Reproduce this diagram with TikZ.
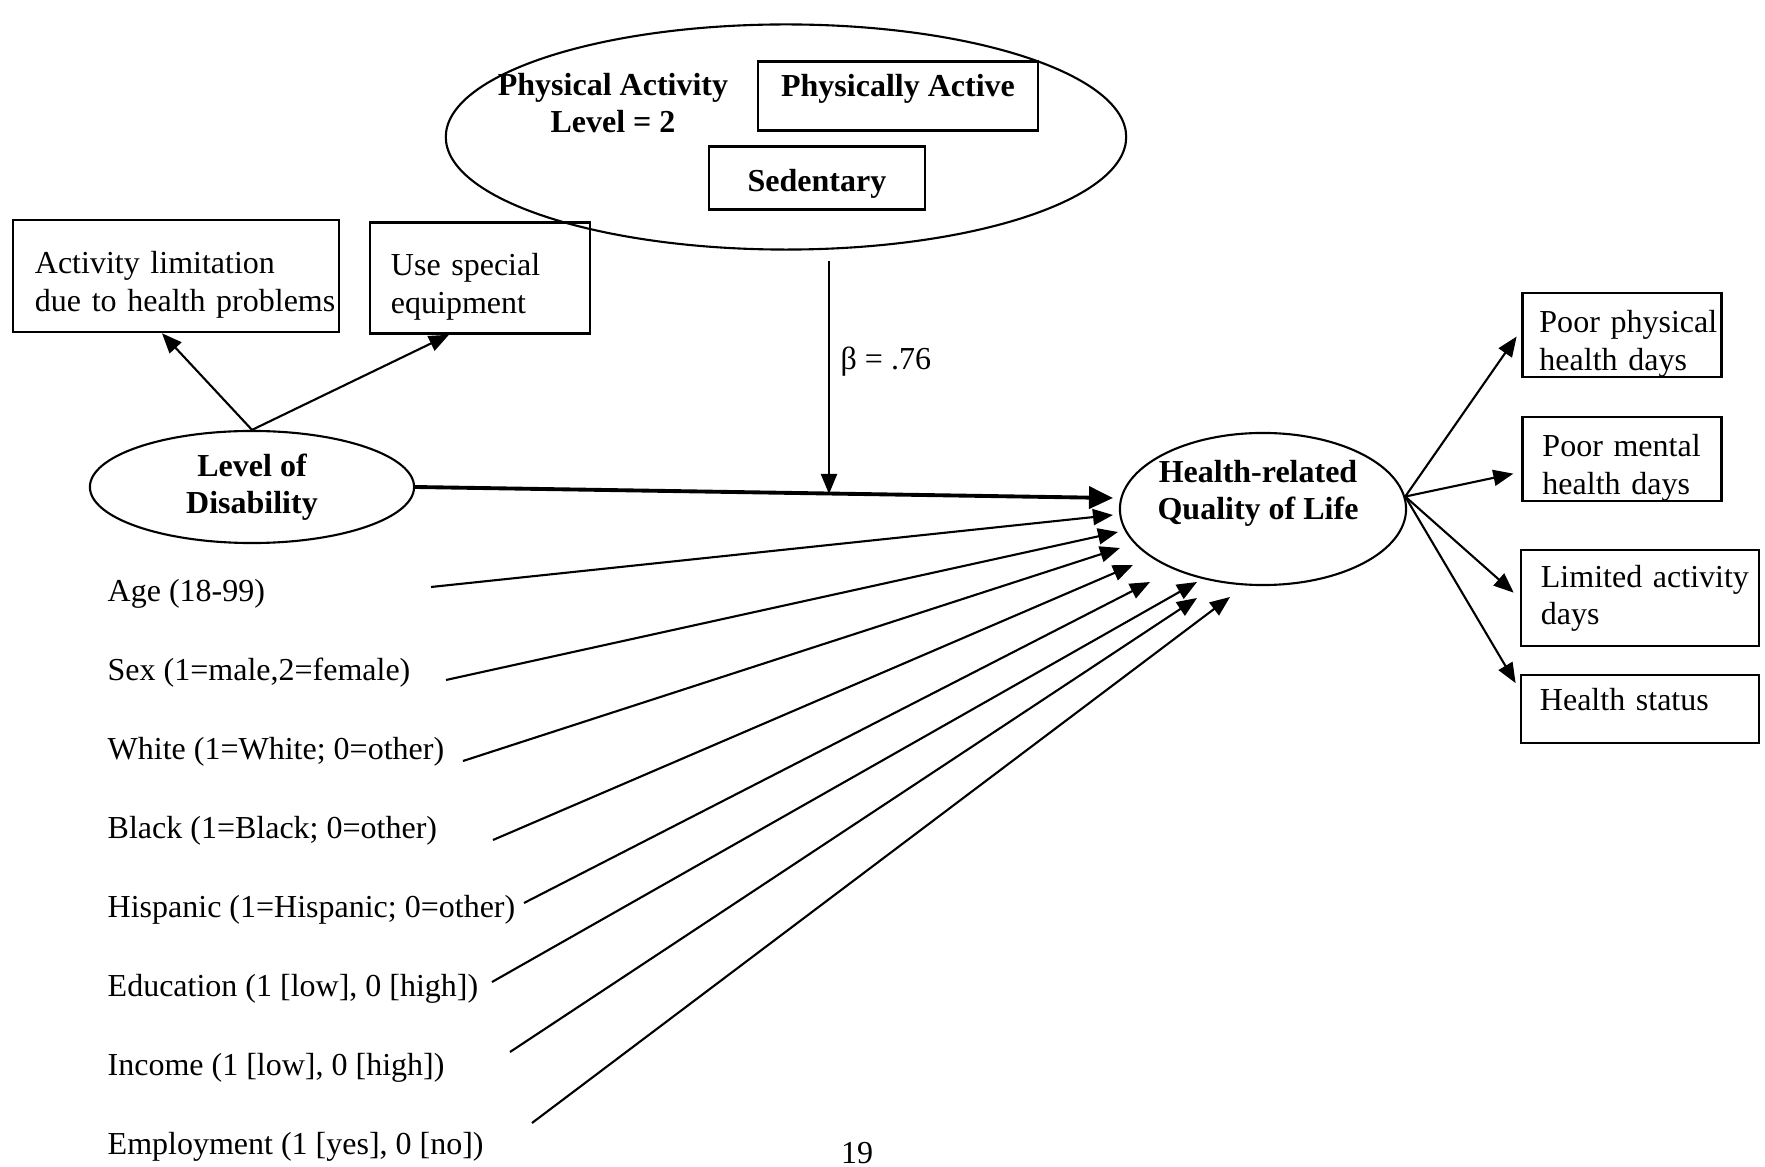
\documentclass[tikz,border=0pt]{standalone}
\usepackage{fontspec}
\setmainfont{Liberation Serif}
\usepackage{tikz}
\usetikzlibrary{arrows.meta,shapes.geometric,calc}
\newcommand{\diagfont}{\fontsize{9.1pt}{10.6pt}\selectfont}
\newcommand{\topgap}{\rule{0pt}{0.40cm}}

\begin{document}
\begin{tikzpicture}[
  x=0.01cm,y=-0.01cm,
  font=\diagfont,
  oval/.style={draw,ellipse,line width=0.6pt,inner sep=0pt,align=center,font=\diagfont\bfseries},
  box/.style={draw,line width=0.7pt,align=left,inner xsep=0.2cm,inner ysep=0pt},
  bbox/.style={draw,line width=0.7pt,align=center,inner sep=0pt,font=\diagfont\bfseries},
  var/.style={anchor=west,inner sep=0pt},
  arr/.style={-{Triangle[length=2.0mm,width=1.6mm]},line width=0.6pt},
  mainarr/.style={-{Triangle[length=2.4mm,width=2.2mm]},line width=1.1pt}
]
\useasboundingbox (0,0) rectangle (1765,1167);
% moderator
\node[oval,minimum width=6.8cm,minimum height=2.25cm] (pa) at (786,137) {};
\node[font=\diagfont\bfseries,align=center] (palabel) at (613,103) {Physical Activity\\Level = 2};
\node[bbox,minimum width=2.80cm,minimum height=0.69cm,text depth=0.21cm] (active) at (898,96) {Physically Active};
\node[bbox,minimum width=2.16cm,minimum height=0.63cm,text height=0.33cm] (sedentary) at (817,178) {Sedentary};
% disability
\node[box,inner xsep=0.22cm,text width=2.82cm,minimum height=1.12cm] (actlim) at (176,276) {\topgap Activity limitation\\\mbox{due to health problems}};
\node[box,inner xsep=0.21cm,text width=1.78cm,minimum height=1.11cm] (equip) at (480,278) {\topgap Use special\\equipment};
\node[oval,minimum width=3.24cm,minimum height=1.12cm] (lod) at (252,487) {Level of\\Disability};
\draw[arr] (lod.north) -- ([xshift=-0.14cm]actlim.south);
\draw[arr] (lod.north) -- ([xshift=-0.31cm]equip.south);
% outcome
\node[oval,minimum width=2.86cm,minimum height=1.52cm] (hrq) at (1263,509) {};
\node[font=\diagfont\bfseries,align=center] (hrqlabel) at (1258,493) {Health-related\\Quality of Life};
\node[box,inner xsep=0.17cm,text width=1.65cm,minimum height=0.80cm] (pphys) at (1622,335) {\topgap\mbox{Poor physical}\\health days};
\node[box,text width=1.59cm,minimum height=0.78cm] (pment) at (1622,459) {\topgap Poor mental\\health days};
\node[box,text width=1.98cm,minimum height=0.96cm] (lact) at (1640,598) {\mbox{Limited activity}\\days};
\node[box,inner xsep=0.19cm,text width=2.0cm,minimum height=0.68cm,text depth=0.2cm] (hstat) at (1640,709) {Health status};
\draw[arr,shorten >=0.08cm] (hrq.5) -- ([yshift=0.05cm]pphys.west);
\draw[arr,shorten >=0.08cm] (hrq.5) -- ([yshift=-0.13cm]pment.west);
\draw[arr,shorten >=0.08cm] (hrq.5) -- (lact.west);
\draw[arr,shorten >=0.08cm] (hrq.5) -- ([yshift=0.19cm]hstat.west);
% main path and moderation
\coordinate (tmain) at (1113,498);
\coordinate (mod) at (829,494);
\draw[mainarr] (lod.east) -- (tmain);
\draw[arr,shorten <=0.1cm] (mod |- pa.south) -- (mod);
\node[anchor=west,inner sep=0pt] (beta) at (840,362) {β = .76};
% covariates
\node[var] (age) at (107,594) {Age (18-99)};
\node[var] (sex) at (107,673) {Sex (1=male,2=female)};
\node[var] (white) at (107,752) {White (1=White; 0=other)};
\node[var] (black) at (107,831) {Black (1=Black; 0=other)};
\node[var] (hisp) at (107,910) {Hispanic (1=Hispanic; 0=other)};
\node[var] (edu) at (107,989) {Education (1 [low], 0 [high])};
\node[var] (inc) at (107,1068) {Income (1 [low], 0 [high])};
\node[var] (emp) at (107,1147) {Employment (1 [yes], 0 [no])};
\coordinate (sage) at (431,587);  \coordinate (tage) at (1113,515);
\coordinate (ssex) at (446,680);  \coordinate (tsex) at (1118,532);
\coordinate (swhite) at (463,761); \coordinate (twhite) at (1120,548);
\coordinate (sblack) at (493,840); \coordinate (tblack) at (1133,565);
\coordinate (shisp) at (524,903); \coordinate (thisp) at (1150,582);
\coordinate (sedu) at (492,982);  \coordinate (tedu) at (1197,582);
\coordinate (sinc) at (510,1052); \coordinate (tinc) at (1197,598);
\coordinate (semp) at (532,1123); \coordinate (temp) at (1230,597);
\draw[arr] (sage)--(tage); \draw[arr] (ssex)--(tsex);
\draw[arr] (swhite)--(twhite); \draw[arr] (sblack)--(tblack);
\draw[arr] (shisp)--(thisp); \draw[arr] (sedu)--(tedu);
\draw[arr] (sinc)--(tinc); \draw[arr] (semp)--(temp);
\node[anchor=south,inner sep=0pt] (pagenum) at (857,1165) {19};
\end{tikzpicture}
\end{document}
